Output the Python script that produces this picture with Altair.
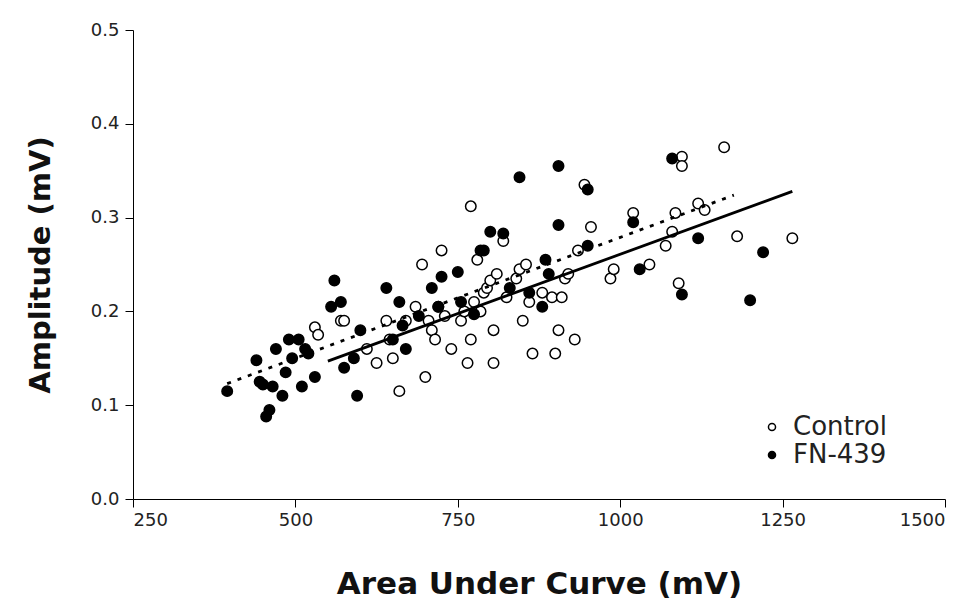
import altair as alt
import pandas as pd

# FN-439 (filled)
fn_x = [395, 440, 445, 450, 455, 460, 465, 470, 480, 485, 490, 495, 505, 510, 515, 520, 530,
        555, 560, 570, 575, 590, 595, 600, 640, 650, 660, 665, 670, 690, 710, 720, 725, 750,
        755, 775, 785, 790, 800, 820, 830, 845, 860, 880, 885, 890, 905, 905, 950, 950, 1020,
        1030, 1080, 1095, 1120, 1200, 1220]
fn_y = [0.115, 0.148, 0.125, 0.122, 0.088, 0.095, 0.120, 0.160, 0.110, 0.135, 0.170, 0.150,
        0.170, 0.120, 0.160, 0.155, 0.130, 0.205, 0.233, 0.210, 0.140, 0.150, 0.110, 0.180,
        0.225, 0.170, 0.210, 0.185, 0.160, 0.195, 0.225, 0.205, 0.237, 0.242, 0.210, 0.197,
        0.265, 0.265, 0.285, 0.283, 0.225, 0.343, 0.220, 0.205, 0.255, 0.240, 0.355, 0.292,
        0.270, 0.330, 0.295, 0.245, 0.363, 0.218, 0.278, 0.212, 0.263]

# Control (open)
ct_x = [530, 535, 570, 575, 610, 625, 640, 645, 650, 660, 670, 685, 695, 700, 705, 710, 715,
        720, 725, 730, 740, 755, 760, 765, 770, 770, 775, 780, 785, 790, 795, 800, 805, 805,
        810, 820, 825, 840, 845, 850, 855, 860, 865, 880, 895, 900, 905, 910, 915, 920, 930,
        935, 945, 955, 985, 990, 1020, 1045, 1070, 1080, 1085, 1090, 1095, 1095, 1120, 1130,
        1160, 1180, 1265]
ct_y = [0.183, 0.175, 0.190, 0.190, 0.160, 0.145, 0.190, 0.170, 0.150, 0.115, 0.190, 0.205,
        0.250, 0.130, 0.190, 0.180, 0.170, 0.205, 0.265, 0.195, 0.160, 0.190, 0.200, 0.145,
        0.312, 0.170, 0.210, 0.255, 0.200, 0.220, 0.225, 0.233, 0.145, 0.180, 0.240, 0.275,
        0.215, 0.235, 0.245, 0.190, 0.250, 0.210, 0.155, 0.220, 0.215, 0.155, 0.180, 0.215,
        0.235, 0.240, 0.170, 0.265, 0.335, 0.290, 0.235, 0.245, 0.305, 0.250, 0.270, 0.285,
        0.305, 0.230, 0.365, 0.355, 0.315, 0.308, 0.375, 0.280, 0.278]

# Regression lines (endpoints)
ct_line_x = [550, 1265]
ct_line_y = [0.147, 0.328]
fn_line_x = [395, 1175]
fn_line_y = [0.123, 0.324]

groups = ["Control", "FN-439"]

pts = pd.DataFrame({
    "x": ct_x + fn_x,
    "y": ct_y + fn_y,
    "group": ["Control"] * len(ct_x) + ["FN-439"] * len(fn_x),
})
ct_line = pd.DataFrame({"x": ct_line_x, "y": ct_line_y})
fn_line = pd.DataFrame({"x": fn_line_x, "y": fn_line_y})

FONT = "DejaVu Sans"

xs = alt.Scale(domain=[250, 1500], nice=False, zero=False)
ys = alt.Scale(domain=[0, 0.5], nice=False)

xax = alt.Axis(values=[250, 500, 750, 1000, 1250, 1500], format="d",
               title="Area Under Curve (mV)",
               grid=False, domainColor="black", tickColor="black", tickSize=8,
               labelFont=FONT, labelFontSize=18, labelColor="#222", labelPadding=4,
               titleFont=FONT, titleFontWeight="bold", titleFontSize=31,
               titleColor="#111", titlePadding=40)
yax = alt.Axis(values=[0, 0.1, 0.2, 0.3, 0.4, 0.5], format=".1f", title="Amplitude (mV)",
               grid=False, domainColor="black", tickColor="black", tickSize=8,
               labelFont=FONT, labelFontSize=18, labelColor="#222", labelPadding=6,
               titleFont=FONT, titleFontWeight="bold", titleFontSize=29,
               titleColor="#111", titlePadding=35)

points = alt.Chart(pts).mark_point(filled=True, stroke="black", strokeWidth=1.5,
                                   shape="circle", opacity=1).encode(
    x=alt.X("x:Q", scale=xs, axis=xax),
    y=alt.Y("y:Q", scale=ys, axis=yax),
    fill=alt.Fill("group:N", scale=alt.Scale(domain=groups, range=["white", "black"]),
                  legend=alt.Legend(title=None, orient="none", legendX=626, legendY=384,
                                    labelFont=FONT, labelFontSize=26, labelColor="#222",
                                    symbolType="circle", symbolSize=50,
                                    symbolStrokeColor="black", symbolStrokeWidth=1.5,
                                    rowPadding=2, labelOffset=8)),
    size=alt.value(110),
)

solid = alt.Chart(ct_line).mark_line(color="black", strokeWidth=2.8).encode(
    x=alt.X("x:Q", scale=xs), y=alt.Y("y:Q", scale=ys))
dotted = alt.Chart(fn_line).mark_line(color="black", strokeWidth=2.8,
                                      strokeDash=[4, 7]).encode(
    x=alt.X("x:Q", scale=xs), y=alt.Y("y:Q", scale=ys))

chart = alt.layer(points, solid, dotted).properties(
    width=812, height=469,
    background="white",
    autosize=alt.AutoSizeParams(type="none"),
    padding={"left": 125, "top": 22, "right": 20, "bottom": 105},
).configure_view(strokeWidth=0, stroke="transparent")

chart.save("out.html", embed_options={"renderer": "svg", "actions": False})
